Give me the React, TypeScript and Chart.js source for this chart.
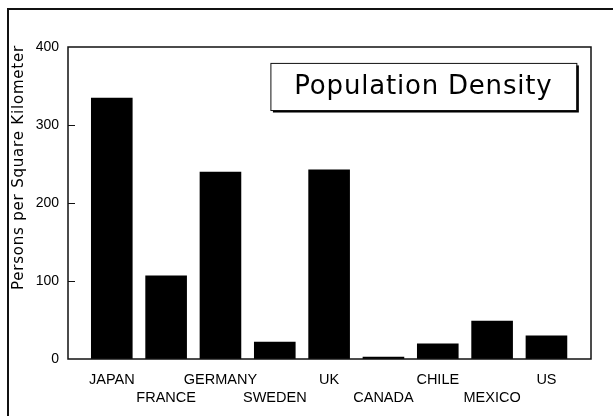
import React, { useEffect, useRef } from "react";
import { Chart, registerables } from "chart.js";

Chart.register(...registerables);

const categories = ["JAPAN", "FRANCE", "GERMANY", "SWEDEN", "UK", "CANADA", "CHILE", "MEXICO", "US"];
const density = [335, 107, 240, 22, 243, 3, 20, 49, 30];
const yTicks = [0, 100, 200, 300, 400];
const chartTitle = "Population Density";
const yAxisTitle = "Persons per Square Kilometer";

const W = 613;
const H = 416;

const framePlugin = {
  id: "framePlugin",
  afterDraw(chart: any) {
    const { ctx, chartArea } = chart;
    const { left, top, right, bottom } = chartArea;
    ctx.save();
    // outer frame (top and left edges only, rest off-page)
    ctx.strokeStyle = "#111";
    ctx.lineWidth = 2;
    ctx.beginPath();
    ctx.moveTo(8, H);
    ctx.lineTo(8, 9);
    ctx.lineTo(W, 9);
    ctx.stroke();

    // plot box
    ctx.lineWidth = 1.5;
    ctx.strokeRect(left, top, right - left, bottom - top);

    // inward y ticks
    const ys = chart.scales.y;
    ctx.lineWidth = 1.2;
    ctx.beginPath();
    yTicks.slice(1, -1).forEach((v) => {
      const py = Math.round(ys.getPixelForValue(v)) + 0.5;
      ctx.moveTo(left, py);
      ctx.lineTo(left + 7, py);
    });
    ctx.stroke();

    // y axis title (rotated, aligned to top of plot)
    ctx.fillStyle = "#000";
    ctx.font = "15px 'DejaVu Sans'";
    (ctx as any).letterSpacing = "0.8px";
    ctx.translate(19.5, top - 2);
    ctx.rotate(-Math.PI / 2);
    ctx.textAlign = "right";
    ctx.textBaseline = "middle";
    ctx.fillText(yAxisTitle, 0, 0);
    ctx.setTransform(1, 0, 0, 1, 0, 0);

    // title box with shadow
    const w = right - left;
    const h = bottom - top;
    const bx = left + w * 0.387;
    const by = top + h * 0.051;
    const bw = w * 0.585;
    const bh = h * 0.151;
    ctx.fillStyle = "#000";
    ctx.fillRect(bx + 2.5, by + 2.5, bw, bh);
    ctx.fillStyle = "#fff";
    ctx.fillRect(bx, by, bw, bh);
    ctx.strokeStyle = "#111";
    ctx.lineWidth = 1;
    ctx.strokeRect(bx + 0.5, by + 0.5, bw, bh);
    ctx.fillStyle = "#000";
    ctx.font = "26px 'DejaVu Sans'";
    (ctx as any).letterSpacing = "0.8px";
    ctx.textAlign = "center";
    ctx.textBaseline = "middle";
    ctx.fillText(chartTitle, bx + bw / 2, by + bh / 2 + 1);
    (ctx as any).letterSpacing = "0px";
    ctx.restore();
  },
};

export default function App() {
  const ref = useRef<HTMLCanvasElement>(null);

  useEffect(() => {
    document.body.style.margin = "0";
    const canvas = ref.current!;
    const chart = new Chart(canvas, {
      type: "bar",
      data: {
        datasets: [
          {
            data: categories.map((_, i) => ({ x: i, y: density[i] })),
            backgroundColor: "#000",
            borderWidth: 0,
            categoryPercentage: 1,
            barPercentage: 0.766,
          },
        ],
      },
      options: {
        animation: false,
        responsive: false,
        devicePixelRatio: 1,
        layout: { padding: { left: 0, top: 47, right: 22, bottom: 0 } },
        plugins: { legend: { display: false }, tooltip: { enabled: false } },
        scales: {
          x: {
            type: "linear",
            offset: false,
            min: -0.806,
            max: 8.82,
            grid: { display: false, drawTicks: false },
            border: { display: false },
            afterBuildTicks: (scale: any) => {
              scale.ticks = categories.map((_, i) => ({ value: i }));
            },
            afterFit: (scale: any) => {
              scale.height = 57;
            },
            ticks: {
              autoSkip: false,
              maxRotation: 0,
              minRotation: 0,
              padding: 12,
              color: "#000",
              font: { family: "'Liberation Sans', Arial, sans-serif", size: 14.5, lineHeight: "18px" },
              callback: (value: any) => {
                const i = Math.round(value);
                const name = categories[i] ?? "";
                return i % 2 === 0 ? [name, ""] : ["", name];
              },
            },
          },
          y: {
            min: 0,
            max: 400,
            grid: { display: false, drawTicks: false },
            border: { display: false },
            afterBuildTicks: (scale: any) => {
              scale.ticks = yTicks.map((v) => ({ value: v }));
            },
            afterFit: (scale: any) => {
              scale.width = 68;
            },
            ticks: {
              padding: 9,
              color: "#000",
              font: { family: "'Liberation Sans', Arial, sans-serif", size: 14 },
            },
          },
        },
      },
      plugins: [framePlugin],
    } as any);
    return () => chart.destroy();
  }, []);

  return <canvas ref={ref} width={W} height={H} style={{ display: "block", width: W, height: H }} />;
}
